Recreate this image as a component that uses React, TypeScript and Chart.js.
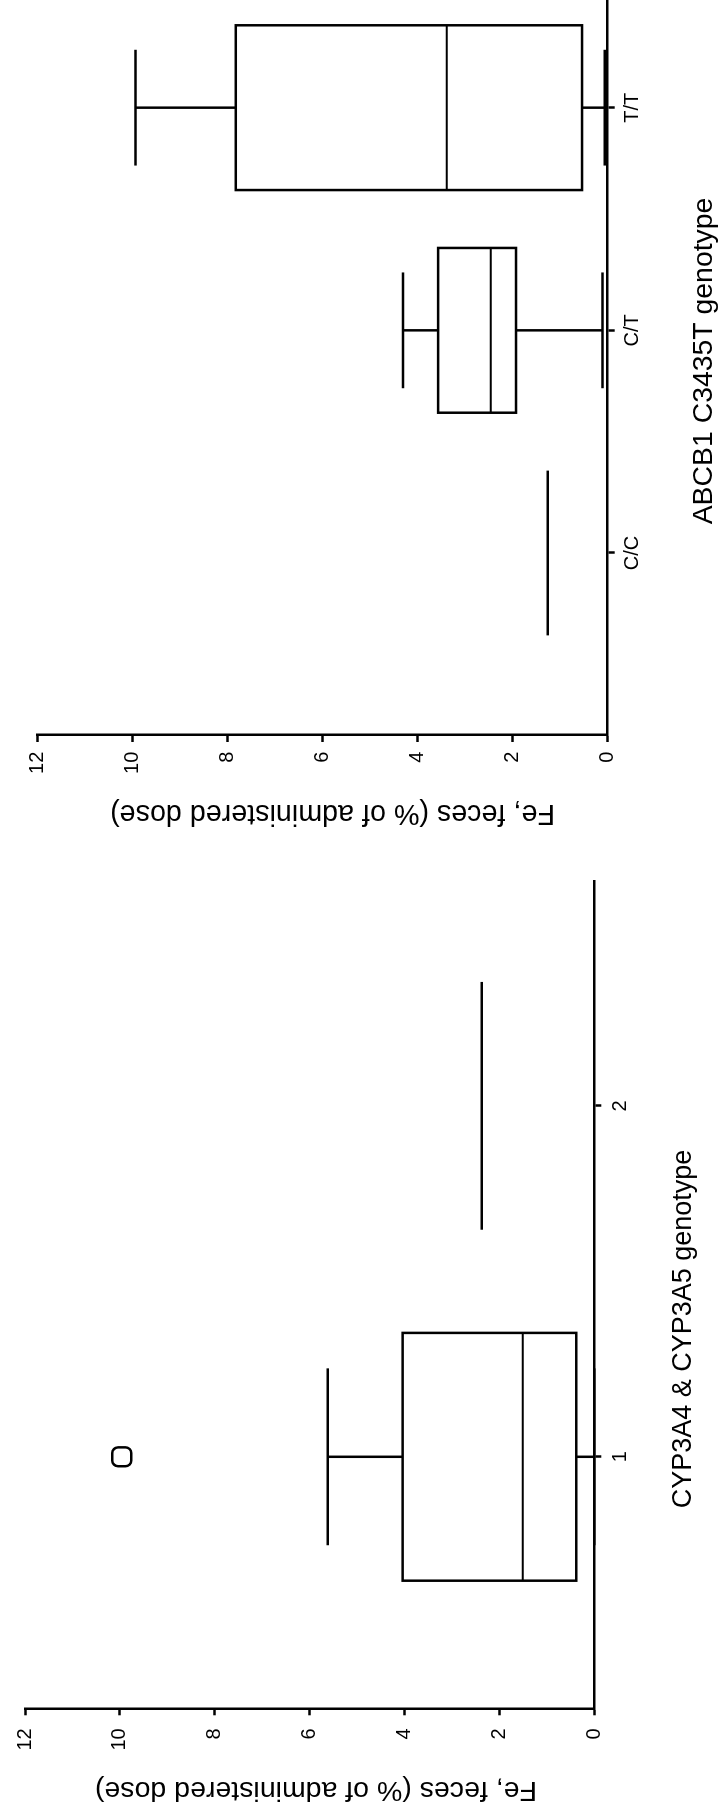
import React, { useEffect, useRef } from 'react';
import { Chart, registerables } from 'chart.js';

Chart.register(...registerables);

const FONT = 'Arial, "Liberation Sans", Helvetica, sans-serif';

// shared value axis
const valueTicks = [0, 2, 4, 6, 8, 10, 12];
const valueAxisTitle = 'Fe, feces (% of administered dose)';

// Panel 1: ABCB1 C3435T genotype
const abcbCategories = ['C/C', 'C/T', 'T/T'];
const abcbMin = [1.26, 0.11, 0.06];
const abcbQ1 = [1.26, 1.93, 0.54];
const abcbMedian = [1.26, 2.46, 3.39];
const abcbQ3 = [1.26, 3.57, 7.83];
const abcbMax = [1.26, 4.31, 9.94];
const abcbTitle = 'ABCB1 C3435T genotype';

// Panel 2: CYP3A4 & CYP3A5 genotype
const cypCategories = ['1', '2'];
const cypMin = [0.0, 2.37];
const cypQ1 = [0.38, 2.37];
const cypMedian = [1.51, 2.37];
const cypQ3 = [4.04, 2.37];
const cypMax = [5.62, 2.37];
const cypOutlierGroup = [1];
const cypOutlierValue = [9.96];
const cypTitle = 'CYP3A4 & CYP3A5 genotype';

function makeBoxPlugin(p: any) {
  return {
    id: 'boxplot',
    afterDatasetsDraw(chart: any) {
      const { ctx } = chart;
      const xs = chart.scales.x;
      const ys = chart.scales.y;
      const line = (x1: number, y1: number, x2: number, y2: number, w: number) => {
        ctx.lineWidth = w;
        ctx.beginPath();
        ctx.moveTo(x1, y1);
        ctx.lineTo(x2, y2);
        ctx.stroke();
      };
      ctx.save();
      ctx.strokeStyle = '#000';
      ctx.lineCap = 'butt';
      p.categories.forEach((_: string, i: number) => {
        const pos = i + 1;
        const cx = xs.getPixelForValue(pos);
        const bl = xs.getPixelForValue(pos - p.boxWidth / 2);
        const br = xs.getPixelForValue(pos + p.boxWidth / 2);
        const cl = xs.getPixelForValue(pos - p.capWidth / 2);
        const cr = xs.getPixelForValue(pos + p.capWidth / 2);
        const yMin = ys.getPixelForValue(p.min[i]);
        const yQ1 = ys.getPixelForValue(p.q1[i]);
        const yMed = ys.getPixelForValue(p.median[i]);
        const yQ3 = ys.getPixelForValue(p.q3[i]);
        const yMax = ys.getPixelForValue(p.max[i]);
        if (p.max[i] > p.q3[i]) {
          line(cx, yQ3, cx, yMax, 2.5);
          line(cl, yMax, cr, yMax, 2.5);
        }
        if (p.min[i] < p.q1[i]) {
          line(cx, yQ1, cx, yMin, 2.5);
          line(cl, yMin, cr, yMin, 2.5);
        }
        if (p.q3[i] > p.q1[i]) {
          ctx.lineWidth = 2.5;
          ctx.strokeRect(bl, yQ3, br - bl, yQ1 - yQ3);
          line(bl, yMed, br, yMed, 2);
        } else {
          line(bl, yMed, br, yMed, 2.5);
        }
      });
      ctx.restore();
    },
  };
}

function makeTitlePlugin(p: any) {
  return {
    id: 'axisTitles',
    afterDraw(chart: any) {
      const { ctx } = chart;
      ctx.save();
      ctx.fillStyle = '#000';
      ctx.textAlign = 'center';
      ctx.textBaseline = 'middle';
      ctx.save();
      ctx.font = `${p.valueTitleSize}px ${FONT}`;
      ctx.translate(p.valueTitlePos[0], p.valueTitlePos[1]);
      ctx.rotate(-Math.PI / 2);
      ctx.fillText(valueAxisTitle, 0, 0);
      ctx.restore();
      ctx.font = `${p.catTitleSize}px ${FONT}`;
      ctx.fillText(p.title, p.catTitlePos[0], p.catTitlePos[1]);
      ctx.restore();
    },
  };
}

function buildConfig(p: any) {
  const outliers = p.outlierGroup.map((g: number, i: number) => ({ x: g, y: p.outlierValue[i] }));
  return {
    type: 'scatter',
    data: {
      datasets: [
        {
          data: outliers,
          showLine: false,
          pointStyle: 'rectRounded',
          pointRadius: 11,
          pointBorderColor: '#000',
          pointBorderWidth: 2.5,
          pointBackgroundColor: 'rgba(0,0,0,0)',
        },
      ],
    },
    options: {
      responsive: false,
      animation: false,
      devicePixelRatio: 1,
      events: [],
      layout: { padding: { top: p.padTop, left: 0, right: 0, bottom: 0 } },
      plugins: { legend: { display: false }, tooltip: { enabled: false } },
      scales: {
        x: {
          type: 'linear',
          min: p.xMin,
          max: p.xMax,
          afterBuildTicks: (s: any) => {
            s.ticks = p.categories.map((_: string, i: number) => ({ value: i + 1 }));
          },
          afterFit: (s: any) => {
            s.height = p.xAxisHeight;
          },
          ticks: {
            autoSkip: false,
            maxRotation: 0,
            color: '#000',
            padding: p.xTickPad,
            font: { size: 20, family: FONT },
            callback: (v: number) => p.categories[Math.round(v) - 1] ?? '',
          },
          grid: { display: true, drawOnChartArea: false, drawTicks: true, tickLength: 7, tickWidth: 2.5, tickColor: '#000' },
          border: { display: true, color: '#000', width: 2.5 },
        },
        y: {
          type: 'linear',
          min: 0,
          max: 12,
          afterBuildTicks: (s: any) => {
            s.ticks = valueTicks.map((v) => ({ value: v }));
          },
          afterFit: (s: any) => {
            s.width = p.yAxisWidth;
          },
          ticks: {
            color: '#000',
            padding: p.yTickPad,
            font: { size: 20, family: FONT },
          },
          grid: { display: true, drawOnChartArea: false, drawTicks: true, tickLength: 7, tickWidth: 2.5, tickColor: '#000' },
          border: { display: true, color: '#000', width: 2.5 },
        },
      },
    },
    plugins: [makeBoxPlugin(p), makeTitlePlugin(p)],
  };
}

const panelTop = {
  categories: abcbCategories,
  min: abcbMin, q1: abcbQ1, median: abcbMedian, q3: abcbQ3, max: abcbMax,
  outlierGroup: [] as number[], outlierValue: [] as number[],
  title: abcbTitle,
  boxWidth: 0.74, capWidth: 0.52,
  xMin: 0.1826, xMax: 3.506,
  padTop: 37.7, yAxisWidth: 155, xAxisHeight: 110.3,
  yTickPad: 9.7, xTickPad: 5.8,
  valueTitleSize: 28.7, catTitleSize: 28.4,
  valueTitlePos: [77.5, 332.5], catTitlePos: [529, 704],
  W: 895, H: 718, pageBottom: 890,
};

const panelBottom = {
  categories: cypCategories,
  min: cypMin, q1: cypQ1, median: cypMedian, q3: cypQ3, max: cypMax,
  outlierGroup: cypOutlierGroup, outlierValue: cypOutlierValue,
  title: cypTitle,
  boxWidth: 0.706, capWidth: 0.504,
  xMin: 0.2834, xMax: 2.642,
  padTop: 22.7, yAxisWidth: 109.7, xAxisHeight: 123.7,
  yTickPad: 13, xTickPad: 6.7,
  valueTitleSize: 28.5, catTitleSize: 27,
  valueTitlePos: [28, 316], catTitlePos: [489, 684],
  W: 951, H: 718, pageBottom: 1818,
};

function Panel({ p }: { p: any }) {
  const ref = useRef<HTMLCanvasElement>(null);
  useEffect(() => {
    if (!ref.current) return;
    const chart = new Chart(ref.current, buildConfig(p) as any);
    return () => chart.destroy();
  }, [p]);
  return (
    <div
      style={{
        position: 'absolute',
        left: 0,
        top: p.pageBottom,
        width: p.W,
        height: p.H,
        transformOrigin: '0 0',
        transform: 'rotate(-90deg)',
      }}
    >
      <canvas ref={ref} width={p.W} height={p.H} style={{ display: 'block', width: p.W, height: p.H }} />
    </div>
  );
}

export default function App() {
  return (
    <div
      style={{
        position: 'absolute',
        left: 0,
        top: 0,
        width: 718,
        height: 1818,
        overflow: 'hidden',
        background: '#fff',
      }}
    >
      <Panel p={panelTop} />
      <Panel p={panelBottom} />
    </div>
  );
}
